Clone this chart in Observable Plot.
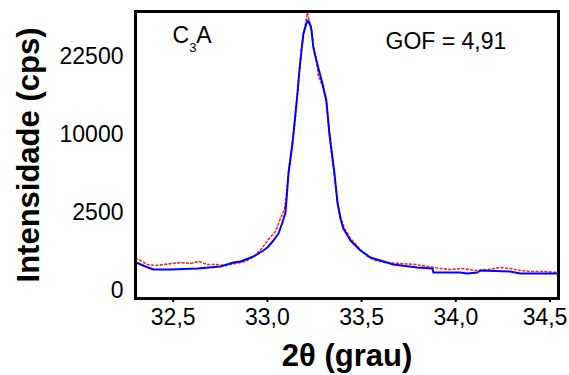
<!DOCTYPE html>
<html>
<head>
<meta charset="utf-8">
<script src="https://cdn.jsdelivr.net/npm/d3@7"></script>
<script src="https://cdn.jsdelivr.net/npm/@observablehq/plot@0.6"></script>
<style>
  html, body { margin: 0; padding: 0; background: #fff; }
  #chart { width: 569px; height: 375px; }
</style>
</head>
<body>
<div id="chart"></div>
<script>
// 2θ (degrees) and intensity (cps) of the calculated profile (blue)
const twoThetaCalc = [32.305, 32.316, 32.353, 32.395, 32.486, 32.629, 32.751, 32.820, 32.857, 32.926,
  32.979, 33.000, 33.032, 33.059, 33.080, 33.096, 33.101, 33.112, 33.133, 33.149,
  33.160, 33.170, 33.181, 33.191, 33.207, 33.214, 33.229, 33.234, 33.244, 33.260,
  33.292, 33.313, 33.329, 33.356, 33.372, 33.388, 33.403, 33.441, 33.494, 33.547,
  33.669, 33.796, 33.876, 33.881, 34.024, 34.061, 34.114, 34.130, 34.289, 34.342, 34.540];
const intensityCalc = [320, 300, 237, 181, 181, 199, 237, 322, 346, 475,
  658, 760, 1028, 1336, 1901, 2501, 3330, 5628, 8883, 12880,
  16115, 19896, 23678, 27150, 29300, 29970, 28866, 27790, 24274, 21745,
  17614, 14840, 10133, 5628, 3183, 2131, 1580, 1028, 658, 448,
  278, 217, 199, 133, 133, 119, 133, 164, 148, 119, 119];

// observed pattern (red dotted)
const twoThetaObs = [32.300, 32.326, 32.364, 32.406, 32.449, 32.496, 32.539, 32.592, 32.635, 32.682,
  32.724, 32.777, 32.830, 32.883, 32.936, 32.974, 33.005, 33.043, 33.069, 33.090,
  33.101, 33.112, 33.133, 33.149, 33.160, 33.170, 33.181, 33.196, 33.212, 33.222,
  33.234, 33.244, 33.260, 33.270, 33.292, 33.313, 33.329, 33.356, 33.372, 33.388,
  33.409, 33.441, 33.483, 33.531, 33.574, 33.627, 33.706, 33.785, 33.854, 33.918,
  33.971, 34.035, 34.104, 34.173, 34.236, 34.289, 34.342, 34.395, 34.475, 34.539];
const intensityObs = [421, 370, 278, 257, 278, 300, 322, 300, 346, 278,
  278, 257, 300, 346, 504, 760, 1069, 1431, 2131, 2700,
  3632, 5800, 9000, 12500, 16000, 20000, 24000, 27800, 31760, 30000,
  28220, 24500, 21900, 19000, 17300, 14500, 10000, 5436, 3100, 2200,
  1580, 1112, 760, 475, 370, 322, 300, 278, 237, 199,
  181, 199, 164, 181, 217, 199, 164, 148, 148, 133];

const xTicks = [32.5, 33.0, 33.5, 34.0, 34.5];
const yTicks = [0, 2500, 10000, 22500];

const calc = twoThetaCalc.map((t, i) => ({t, I: intensityCalc[i]}));
const obs = twoThetaObs.map((t, i) => ({t, I: intensityObs[i]}));

const font = '"Liberation Sans", Arial, Helvetica, sans-serif';

const plot = Plot.plot({
  width: 569,
  height: 375,
  marginLeft: 135,
  marginRight: 11,
  marginTop: 11,
  marginBottom: 77,
  style: {fontFamily: font, background: "#fff", color: "#000"},
  x: {domain: [32.3, 34.545]},
  y: {type: "sqrt", domain: [0, 32000], range: [290, 11]},
  marks: [
    Plot.line(obs, {x: "t", y: "I", stroke: "#ff2020", strokeWidth: 1.6, strokeDasharray: "1.8,2.6", clip: true}),
    Plot.line(calc, {x: "t", y: "I", stroke: "#0000ff", strokeWidth: 2, clip: true}),
    Plot.frame({stroke: "#000", strokeWidth: 3}),
    Plot.axisX({ticks: xTicks, tickFormat: d => d.toFixed(1).replace(".", ","), tickSize: 4, tickPadding: 6,
      fontSize: 23, strokeWidth: 2, label: null, className: "xax"}),
    Plot.axisY({ticks: yTicks, tickFormat: d => String(d), tickSize: 0, tickPadding: 12,
      fontSize: 23, label: null}),
    Plot.text(["Intensidade (cps)"], {frameAnchor: "left", dx: -106, rotate: -90, textAnchor: "middle",
      lineAnchor: "middle", fontSize: 31, fontWeight: "bold"}),
    Plot.text(["2θ (grau)"], {frameAnchor: "bottom", dy: 67, lineAnchor: "bottom", fontSize: 31, fontWeight: "bold"}),
    Plot.text(["C3A"], {frameAnchor: "top-left", dx: 37, dy: 31, textAnchor: "start", lineAnchor: "bottom", fontSize: 23, className: "c3a"}),
    Plot.text(["GOF = 4,91"], {frameAnchor: "top-left", dx: 250, dy: 37, textAnchor: "start", lineAnchor: "bottom", fontSize: 23})
  ]
});

// subscript for C3A
const t = d3.select(plot).select(".c3a text");
if (!t.empty()) {
  t.text(null);
  t.append("tspan").text("C");
  t.append("tspan").attr("dy", 9).attr("font-size", 13).text("3");
  t.append("tspan").attr("dy", -9).text("A");
}
// keep the last x tick label inside the picture, as in the reference
d3.select(plot).selectAll("text").filter(function() { return this.textContent === "34,5"; })
  .attr("dx", -5);

document.getElementById("chart").appendChild(plot);
</script>
</body>
</html>
